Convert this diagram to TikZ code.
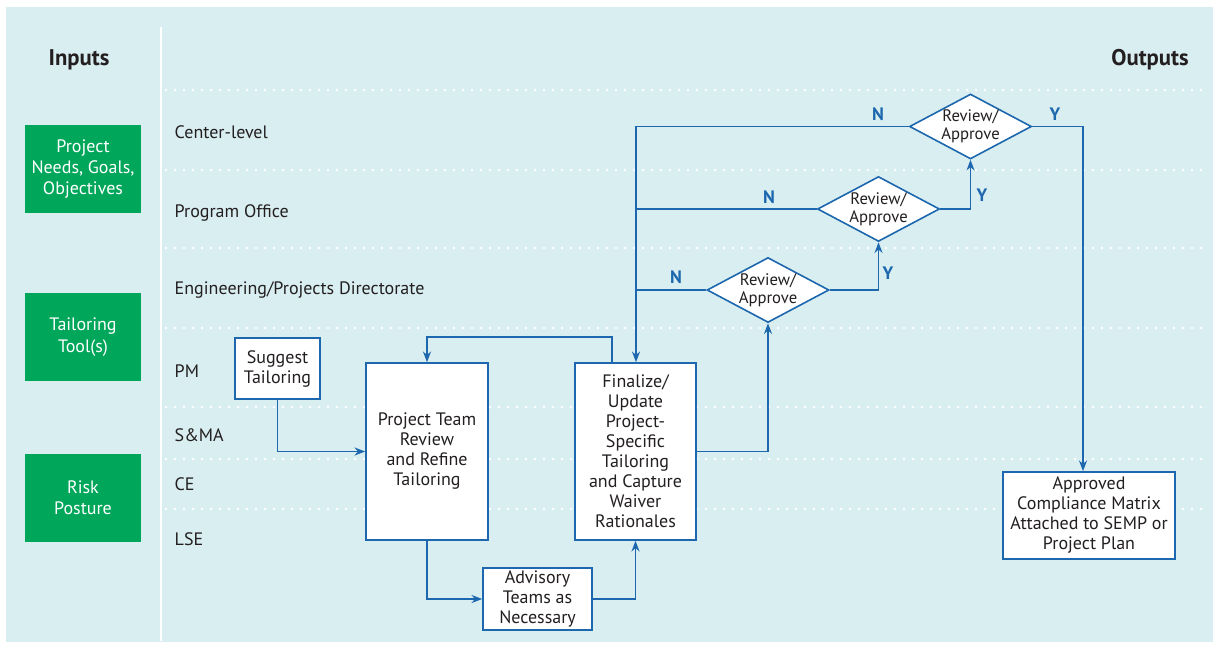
\documentclass[tikz,border=0pt]{standalone}
\usepackage{fontspec}
\setmainfont{PT Sans}
\usetikzlibrary{shapes.geometric,arrows.meta}

\definecolor{bgblue}{RGB}{217,238,241}
\definecolor{flowblue}{RGB}{28,103,174}
\definecolor{inputgreen}{RGB}{0,166,90}
\definecolor{ink}{RGB}{35,31,32}

\begin{document}
\begin{tikzpicture}[x=0.75pt, y=-0.75pt,
        title/.style={font=\fontsize{17}{20}\selectfont\bfseries, text=ink},
        lane/.style={anchor=west, font=\fontsize{13.5}{16}\selectfont, text=ink},
        inbox/.style={rectangle, fill=inputgreen, text=white, align=center, minimum width=87pt, minimum height=66pt, inner sep=0pt, font=\fontsize{13.5}{16}\selectfont},
        procbox/.style={rectangle, draw=flowblue, fill=white, line width=1.2pt, align=center, inner sep=0pt, text=ink, font=\fontsize{13.5}{15}\selectfont},
        decision/.style={diamond, aspect=1.9, draw=flowblue, fill=white, line width=1.2pt, align=center, inner sep=-5pt, minimum width=91.5pt, minimum height=48.75pt, text=ink, font=\fontsize{12.5}{13.5}\selectfont},
        yn/.style={text=flowblue, font=\fontsize{13.5}{16}\selectfont\bfseries},
        line/.style={draw=flowblue, line width=1.2pt},
        flow/.style={line, -{Stealth[length=8pt, width=6pt]}},
        laneline/.style={white, line width=2.2pt, line cap=round, dash pattern=on 0pt off 6.75pt}
    ]

    % Canvas
    \fill[white] (0,0) rectangle (1220,649);
    \useasboundingbox (0,0) rectangle (1220,649);
    \fill[bgblue] (6,7) rectangle (1213,642);

    % Column divider and lane separators
    \draw[white, line width=1.4pt] (161,27) -- (161,641);
    \foreach \ly in {90,170,248,328,407,459,509} {
        \draw[laneline] (166,\ly) -- (1208,\ly);
    }

    % Headings
    \node[title] (inputs) at (79,60) {Inputs};
    \node[title] (outputs) at (1150,60) {Outputs};

    % Inputs
    \node[inbox] (needs) at (83,169) {Project\\Needs, Goals,\\Objectives};
    \node[inbox] (tool) at (83,337) {Tailoring\\Tool(s)};
    \node[inbox] (risk) at (83,498) {Risk\\Posture};

    % Lane names
    \node[lane] (center) at (170,132) {Center-level};
    \node[lane] (program) at (170,213) {Program Office};
    \node[lane] (eng) at (170,290) {Engineering/Projects Directorate};
    \node[lane] (pm) at (170,371) {PM};
    \node[lane] (sma) at (170,435) {S\&MA};
    \node[lane] (ce) at (170,484) {CE};
    \node[lane] (lse) at (170,539) {LSE};

    % Process boxes
    \node[procbox, minimum width=63.75pt, minimum height=45.75pt] (suggest) at (277.5,368.5) {Suggest\\Tailoring};
    \node[procbox, minimum width=91.5pt, minimum height=132.75pt] (team) at (427,451.5) {Project Team\\Review\\and Refine\\Tailoring};
    \node[procbox, minimum width=90.75pt, minimum height=132.75pt] (final) at (635.5,451.5) {Finalize/\\Update\\Project-\\Specific\\Tailoring\\and Capture\\Waiver\\Rationales};
    \node[procbox, minimum width=81.75pt, minimum height=46.5pt] (advisory) at (537.5,599) {Advisory\\Teams as\\Necessary};
    \node[procbox, minimum width=129pt, minimum height=65.25pt] (approved) at (1089,515.5) {Approved\\Compliance Matrix\\Attached to SEMP or\\Project Plan};

    % Review levels
    \node[decision] (rev3) at (768,290) {Review/\\Approve};
    \node[decision] (rev2) at (878.5,209) {Review/\\Approve};
    \node[decision] (rev1) at (970.5,126.5) {Review/\\Approve};

    % Junctions
    \coordinate (loop) at (612,337);
    \coordinate (ntop) at (636,126.5);

    % Team loop
    \draw[flow] (suggest.south) |- (team.west);
    \draw[flow] (team.south) |- (advisory.west);
    \draw[flow] (advisory.east) -| (final.south);
    \draw[flow] (final.north -| loop) -- (loop) -| (team.north);

    % Up the approval chain
    \draw[flow] (final.east) -| (rev3.south);
    \draw[flow] (rev3.east) -| (rev2.south);
    \draw[flow] (rev2.east) -| (rev1.south);
    \draw[flow] (rev1.east) -| ([xshift=-4.5pt]approved.north);

    % Rejections back to finalize
    \draw[line] (rev1.west) -- (ntop);
    \draw[line] (rev2.west) -- (rev2.west -| ntop);
    \draw[line] (rev3.west) -- (rev3.west -| ntop);
    \draw[flow] (ntop) -- (ntop |- final.north);

    % Y / N labels
    \node[yn] (n1) at (878,114) {N};
    \node[yn] (y1) at (1055,114) {Y};
    \node[yn] (n2) at (769,197) {N};
    \node[yn] (y2) at (982,195) {Y};
    \node[yn] (n3) at (676,277) {N};
    \node[yn] (y3) at (888,273) {Y};

\end{tikzpicture}
\end{document}
